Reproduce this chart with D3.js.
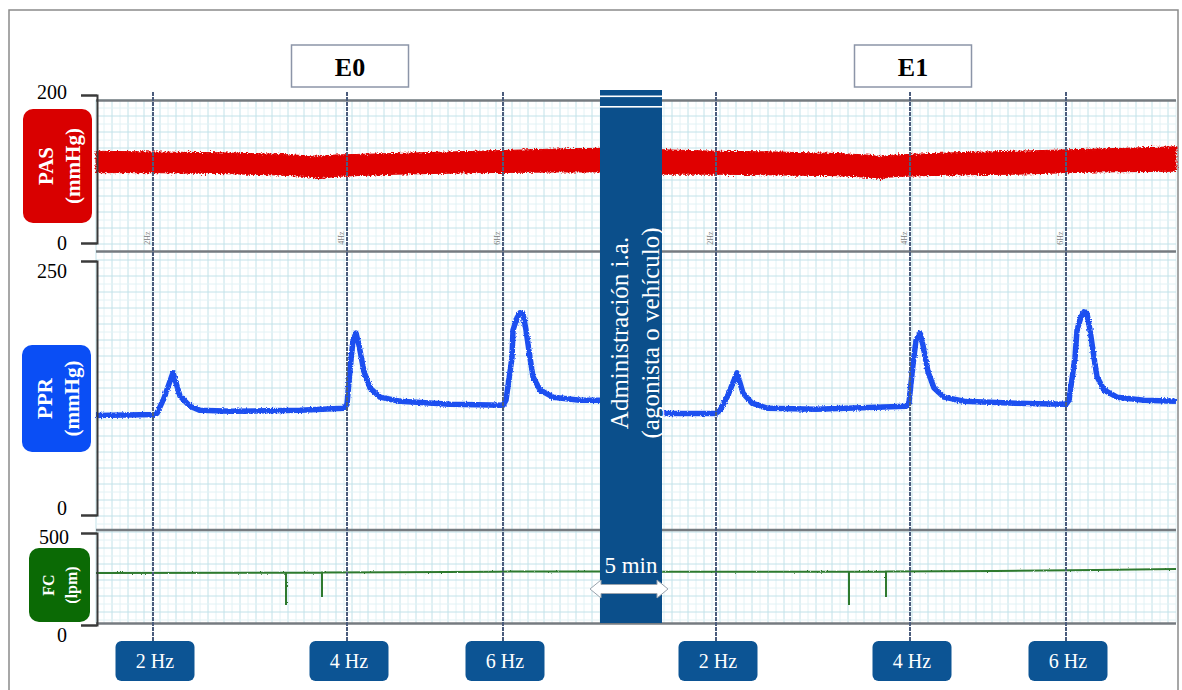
<!DOCTYPE html>
<html>
<head>
<meta charset="utf-8">
<script src="https://cdn.jsdelivr.net/npm/d3@7"></script>
<style>
    html, body { margin: 0; padding: 0; background: #fff; }
    svg { display: block; font-family: "Liberation Serif", "Times New Roman", serif; }
</style>
</head>
<body>
<div id="chart"></div>
<script>
// Time axis in seconds (arbitrary origin). E0 on the left, E1 on the right,
// separated by the 5 min administration (covered by the bar).
const stimTimes  = [28.5, 125.5, 203.5, 310, 407, 485];
const stimLabels = ["2 Hz", "4 Hz", "6 Hz", "2 Hz", "4 Hz", "6 Hz"];
const stimTags   = ["2Hz", "4Hz", "6Hz", "2Hz", "4Hz", "6Hz"];
const stageNames = ["E0", "E1"];
const stageTimes = [125.5, 407];
const adminWindow = [252, 283];

// PAS (mmHg): upper / lower envelope of the pulsatile trace
const pasTime = [0, 30, 60, 90, 105, 112, 120, 150, 190, 230, 252,
                 283, 310, 340, 370, 385, 392, 400, 430, 460, 500, 540];
const pasHigh = [124, 123, 122, 120, 118, 117, 119, 121, 124, 127, 128,
                 126, 124, 123, 121, 119, 117, 119, 122, 124, 127, 130];
const pasLow  = [95, 95, 94, 92, 90, 87, 90, 93, 95, 96, 96,
                 93, 93, 92, 91, 89, 87, 90, 92, 93, 96, 97];

// PPR (mmHg)
const pprTime = [0, 29.5, 30.5, 34, 38.5, 42, 47, 52, 68, 102,
                 124, 125.5, 127, 128.5, 130, 131.5, 134, 137, 142, 152, 177,
                 203.5, 205, 208, 208.5, 210.5, 212, 213.5, 215, 217, 218.5, 222, 228.5, 242, 252,
                 283, 310, 312, 316, 320.5, 323.5, 328, 336, 360,
                 405, 406.5, 408.5, 410, 412, 413.5, 416, 419, 424, 434, 460,
                 485, 486.5, 489.5, 490.5, 492.5, 494, 495.5, 497, 499, 500.5, 504, 510.5, 524, 540];
const pprValue = [98, 99, 100, 115, 140, 117, 107, 103, 102, 103,
                  105, 109, 143, 172, 179, 167, 141, 125, 116, 112, 109,
                  108, 113, 155, 182, 194, 199, 198, 182, 155, 136, 123, 116, 113, 113,
                  100, 100, 103, 118, 140, 120, 110, 105, 104,
                  107, 111, 148, 172, 179, 167, 141, 125, 116, 112, 110,
                  109, 113, 155, 182, 195, 200, 198, 182, 155, 136, 123, 116, 113, 112];

// FC (lpm)
const fcTime  = [0, 95, 95, 95, 113, 113, 113, 150, 200, 252,
                 283, 376.5, 376.5, 376.5, 395, 395, 395, 450, 500, 540];
const fcValue = [283, 284, 109, 284, 285, 152, 285, 287, 290, 291,
                 289, 290, 109, 290, 291, 152, 291, 294, 299, 304];

// Layout
const W = 1182, H = 690;
const plotLeft = 96, plotRight = 1176;
const gridTop = 100, gridBottom = 623;
const sepLines = [100.5, 251.5, 530, 623.5];

const svg = d3.select("#chart").append("svg")
    .attr("width", W)
    .attr("height", H);

// noise filters to give the traces their raw, fuzzy look
const defs = svg.append("defs");
function roughFilter(id, freq, scale) {
    const f = defs.append("filter").attr("id", id)
        .attr("x", "-5%").attr("y", "-50%").attr("width", "110%").attr("height", "200%");
    f.append("feTurbulence").attr("type", "fractalNoise")
        .attr("baseFrequency", freq).attr("numOctaves", 2).attr("seed", 3).attr("result", "n");
    f.append("feDisplacementMap").attr("in", "SourceGraphic").attr("in2", "n")
        .attr("scale", scale).attr("xChannelSelector", "R").attr("yChannelSelector", "G");
}
roughFilter("roughPas", "0.6 0.6", 5);
roughFilter("roughPpr", "0.8 0.6", 3);
roughFilter("roughFc", "0.7 0.7", 2);

// Scales
const x = d3.scaleLinear().domain([0, 540]).range([plotLeft, plotRight]);
const yPas = d3.scaleLinear().domain([0, 200]).range([243, 95]);
const yPpr = d3.scaleLinear().domain([0, 250]).range([515, 261]);
const yFc  = d3.scaleLinear().domain([0, 500]).range([625, 533]);

// outer frame
svg.append("rect")
    .attr("x", 9).attr("y", 10)
    .attr("width", 1169).attr("height", 700)
    .attr("fill", "none").attr("stroke", "#8a8a8a").attr("stroke-width", 1.5);

// chart paper grid
const grid = svg.append("g");
const gy = d3.scaleLinear().domain([0, 1]).range([gridTop, gridTop + 8]);
d3.range(0, 541, 4).forEach((t, i) => {
    grid.append("line")
        .attr("x1", x(t)).attr("x2", x(t))
        .attr("y1", gridTop).attr("y2", gridBottom)
        .attr("stroke", i % 2 ? "#e2f2f5" : "#c2e2e9")
        .attr("stroke-width", 1);
});
d3.range(0, 66).forEach(k => {
    grid.append("line")
        .attr("x1", plotLeft).attr("x2", plotRight)
        .attr("y1", gy(k)).attr("y2", gy(k))
        .attr("stroke", k % 2 ? "#e2f2f5" : "#c2e2e9")
        .attr("stroke-width", 1);
});

// panel separators
sepLines.forEach(yy => {
    svg.append("line")
        .attr("x1", plotLeft).attr("x2", plotRight)
        .attr("y1", yy).attr("y2", yy)
        .attr("stroke", "#767b80").attr("stroke-width", 2.5);
});

// small recorder tags inside PAS panel
stimTimes.forEach((t, i) => {
    svg.append("text")
        .attr("transform", `translate(${x(t) - 6},238) rotate(-90)`)
        .attr("text-anchor", "middle")
        .attr("dy", "0.35em")
        .attr("font-size", 8)
        .attr("fill", "#7a7a7a")
        .text(stimTags[i]);
});

// Traces
const pasData = pasTime.map((t, i) => ({ t, hi: pasHigh[i], lo: pasLow[i] }));
svg.append("path")
    .datum(pasData)
    .attr("fill", "#e00000")
    .attr("stroke", "#e00000")
    .attr("stroke-width", 1)
    .attr("filter", "url(#roughPas)")
    .attr("d", d3.area()
        .x(d => x(d.t))
        .y0(d => yPas(d.lo))
        .y1(d => yPas(d.hi)));

const pprData = pprTime.map((t, i) => ({ t, v: pprValue[i] }));
svg.append("path")
    .datum(pprData)
    .attr("fill", "none")
    .attr("stroke", "#1c4ff0")
    .attr("stroke-width", 5.5)
    .attr("stroke-linejoin", "round")
    .attr("filter", "url(#roughPpr)")
    .attr("d", d3.line().x(d => x(d.t)).y(d => yPpr(d.v)));

const fcData = fcTime.map((t, i) => ({ t, v: fcValue[i] }));
svg.append("path")
    .datum(fcData)
    .attr("fill", "none")
    .attr("stroke", "#2f7a2f")
    .attr("stroke-width", 2)
    .attr("filter", "url(#roughFc)")
    .attr("d", d3.line().x(d => x(d.t)).y(d => yFc(d.v)));

// stimulation markers
stimTimes.forEach(t => {
    svg.append("line")
        .attr("x1", x(t)).attr("x2", x(t))
        .attr("y1", 92).attr("y2", 642)
        .attr("stroke", "#4b5c7c")
        .attr("stroke-width", 2)
        .attr("stroke-dasharray", "4,1");
});

// administration bar
const barX0 = x(adminWindow[0]), barX1 = x(adminWindow[1]);
const bar = svg.append("g");
bar.append("rect")
    .attr("x", barX0).attr("y", 90)
    .attr("width", barX1 - barX0).attr("height", 533)
    .attr("fill", "#0b4f8b");
[95.5, 106].forEach(yy => {
    bar.append("rect")
        .attr("x", barX0).attr("y", yy)
        .attr("width", barX1 - barX0).attr("height", 1.6)
        .attr("fill", "#ffffff");
});
const barMid = (barX0 + barX1) / 2;
["Administración i.a.", "(agonista o vehículo)"].forEach((s, i) => {
    bar.append("text")
        .attr("transform", `translate(${barMid - 12 + i * 31},333) rotate(-90)`)
        .attr("text-anchor", "middle")
        .attr("dy", "0.35em")
        .attr("font-size", 25)
        .attr("fill", "#ffffff")
        .text(s);
});
bar.append("text")
    .attr("x", barMid).attr("y", 565)
    .attr("text-anchor", "middle")
    .attr("dy", "0.35em")
    .attr("font-size", 23)
    .attr("fill", "#ffffff")
    .text("5 min");
// double-headed arrow
const ax0 = barX0 - 10, ax1 = barX1 + 6, ay = 589;
bar.append("path")
    .attr("d", `M${ax0},${ay} L${ax0 + 11},${ay - 9} L${ax0 + 11},${ay - 4.5} L${ax1 - 11},${ay - 4.5}
                L${ax1 - 11},${ay - 9} L${ax1},${ay} L${ax1 - 11},${ay + 9} L${ax1 - 11},${ay + 4.5}
                L${ax0 + 11},${ay + 4.5} L${ax0 + 11},${ay + 9} Z`)
    .attr("fill", "#ffffff")
    .attr("stroke", "#9aa3ad")
    .attr("stroke-width", 1);

// stage boxes
stageNames.forEach((name, i) => {
    const cx = x(stageTimes[i]) + 3;
    svg.append("rect")
        .attr("x", cx - 58.5).attr("y", 45)
        .attr("width", 117).attr("height", 42)
        .attr("fill", "#fff")
        .attr("stroke", "#8c95a8").attr("stroke-width", 1.5);
    svg.append("text")
        .attr("x", cx).attr("y", 67)
        .attr("text-anchor", "middle")
        .attr("dy", "0.35em")
        .attr("font-size", 26)
        .attr("font-weight", "bold")
        .text(name);
});

// frequency labels
stimTimes.forEach((t, i) => {
    const cx = x(t) + 2;
    svg.append("rect")
        .attr("x", cx - 39.5).attr("y", 641)
        .attr("width", 79).attr("height", 40)
        .attr("rx", 6)
        .attr("fill", "#0c5494");
    svg.append("text")
        .attr("x", cx).attr("y", 661)
        .attr("text-anchor", "middle")
        .attr("dy", "0.35em")
        .attr("font-size", 20)
        .attr("fill", "#fff")
        .text(stimLabels[i]);
});

// bracket axes
function bracketAxis(scale, ticks, labelDy, labelDx) {
    const g = svg.append("g")
        .attr("transform", `translate(${plotLeft + 1},0)`)
        .call(d3.axisLeft(scale).tickValues(ticks).tickSize(16).tickSizeOuter(16).tickPadding(14));
    g.select(".domain").attr("stroke", "#3a3a3a").attr("stroke-width", 2);
    g.selectAll(".tick line").attr("stroke", "#3a3a3a").attr("stroke-width", 2);
    g.selectAll(".tick text")
        .attr("font-family", "'Liberation Serif', serif")
        .attr("font-size", 20)
        .attr("fill", "#000")
        .attr("dy", (d, i) => (0.32 * 20 + labelDy[i]) + "px")
        .attr("dx", (d, i) => labelDx[i]);
}
bracketAxis(yPas, [0, 200], [0, -3], [0, 0]);
bracketAxis(yPpr, [0, 250], [-7, 10], [0, 0]);
bracketAxis(yFc, [0, 500], [10, 4], [0, 2]);

// channel labels
function channelLabel(x0, y0, w, h, color, lines, size, offsets) {
    svg.append("rect")
        .attr("x", x0).attr("y", y0)
        .attr("width", w).attr("height", h)
        .attr("rx", 10)
        .attr("fill", color);
    lines.forEach((s, i) => {
        svg.append("text")
            .attr("transform", `translate(${x0 + w / 2 + offsets[i]},${y0 + h / 2}) rotate(-90)`)
            .attr("text-anchor", "middle")
            .attr("dy", "0.35em")
            .attr("font-size", size)
            .attr("font-weight", "bold")
            .attr("fill", "#fff")
            .text(s);
    });
}
channelLabel(23, 109, 69, 114, "#d90000", ["PAS", "(mmHg)"], 21, [-12, 15]);
channelLabel(22, 345, 69, 107, "#0a4ef5", ["PPR", "(mmHg)"], 21, [-12, 15]);
channelLabel(29, 548, 61, 74, "#0b6a05", ["FC", "(lpm)"], 16, [-11, 12]);
</script>
</body>
</html>
